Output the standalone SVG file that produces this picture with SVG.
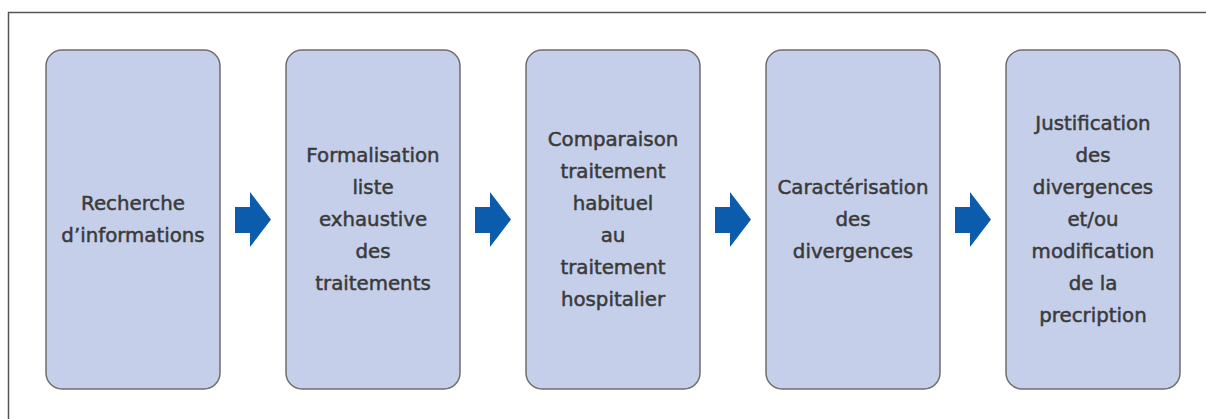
<svg xmlns="http://www.w3.org/2000/svg" width="1206" height="419" viewBox="0 0 1206 419">
<style>
.box{fill:#c5cfea;stroke:#6e6e6e;stroke-width:1.5}
.lbl{font-family:"DejaVu Sans","Open Sans",sans-serif;font-size:19.8px;fill:#3a3a3a;stroke:#3a3a3a;stroke-width:0.5;text-anchor:middle}
.arr{fill:#0b5cad}
.frame{fill:none;stroke:#555;stroke-width:1.5}
</style>
<path class="frame" d="M8.5,419 V12.5 H1206"/>
<g id="node1">
<rect class="box" x="46" y="50" width="174" height="339" rx="16"/>
<text class="lbl"><tspan x="133" y="210">Recherche</tspan><tspan x="133" y="242">d’informations</tspan></text>
</g>
<g id="node2">
<rect class="box" x="286" y="50" width="174" height="339" rx="16"/>
<text class="lbl"><tspan x="373" y="162">Formalisation</tspan><tspan x="373" y="194">liste</tspan><tspan x="373" y="226">exhaustive</tspan><tspan x="373" y="258">des</tspan><tspan x="373" y="290">traitements</tspan></text>
</g>
<g id="node3">
<rect class="box" x="526" y="50" width="174" height="339" rx="16"/>
<text class="lbl"><tspan x="613" y="146">Comparaison</tspan><tspan x="613" y="178">traitement</tspan><tspan x="613" y="210">habituel</tspan><tspan x="613" y="242">au</tspan><tspan x="613" y="274">traitement</tspan><tspan x="613" y="306">hospitalier</tspan></text>
</g>
<g id="node4">
<rect class="box" x="766" y="50" width="174" height="339" rx="16"/>
<text class="lbl"><tspan x="853" y="194">Caractérisation</tspan><tspan x="853" y="226">des</tspan><tspan x="853" y="258">divergences</tspan></text>
</g>
<g id="node5">
<rect class="box" x="1006" y="50" width="174" height="339" rx="16"/>
<text class="lbl"><tspan x="1093" y="130">Justification</tspan><tspan x="1093" y="162">des</tspan><tspan x="1093" y="194">divergences</tspan><tspan x="1093" y="226">et/ou</tspan><tspan x="1093" y="258">modification</tspan><tspan x="1093" y="290">de la</tspan><tspan x="1093" y="322">precription</tspan></text>
</g>
<g id="connectors">
<polygon class="arr" points="235,207 250,207 250,192 271,219.5 250,247 250,233 235,233"/>
<polygon class="arr" points="475,207 490,207 490,192 511,219.5 490,247 490,233 475,233"/>
<polygon class="arr" points="715,207 730,207 730,192 751,219.5 730,247 730,233 715,233"/>
<polygon class="arr" points="955,207 970,207 970,192 991,219.5 970,247 970,233 955,233"/>
</g>
</svg>
